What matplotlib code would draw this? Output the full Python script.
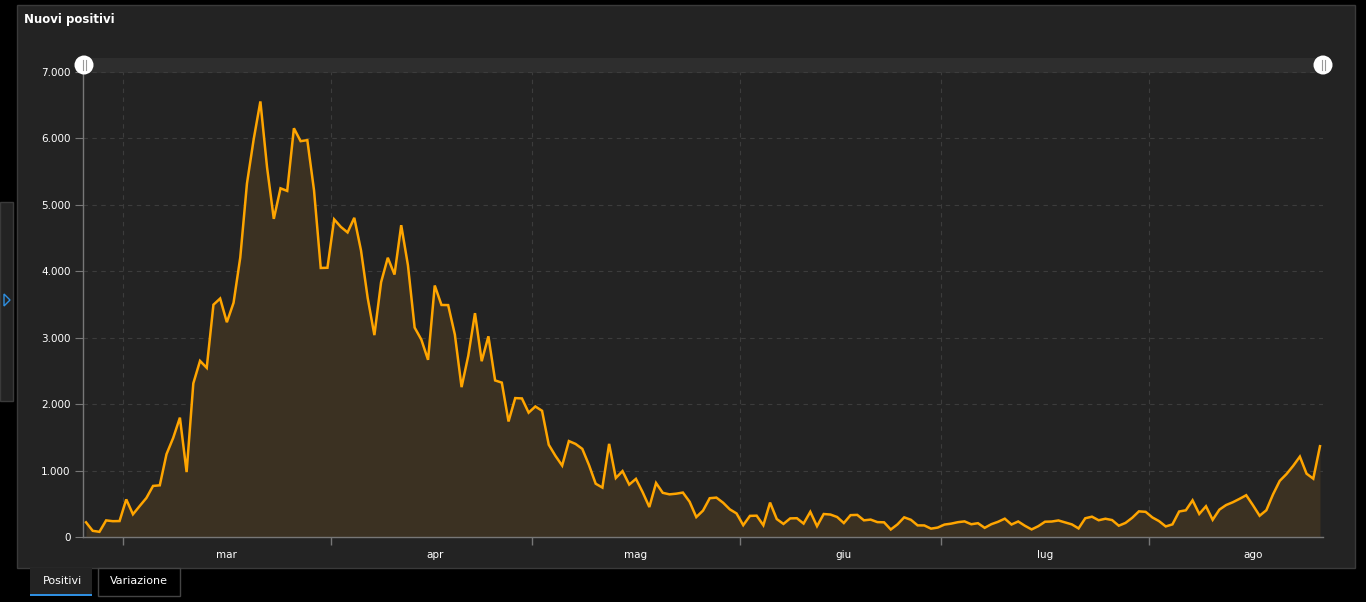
import numpy as np
import matplotlib
matplotlib.use("Agg")
import matplotlib.pyplot as plt
import matplotlib.dates as mdates
from matplotlib.patches import Rectangle, Ellipse, Polygon
import datetime as dt

# nuovi positivi giornalieri, dal 24 feb al 26 ago
start = dt.datetime(2020, 2, 24, 12)
nuovi_positivi = [
    221, 93, 78, 250, 238, 240,
    566, 342, 466, 587, 769, 778, 1247, 1492, 1797, 977, 2313, 2651, 2547, 3497,
    3590, 3233, 3526, 4207, 5322, 5986, 6557, 5560, 4789, 5249, 5210, 6153, 5959,
    5974, 5217, 4050, 4053,
    4782, 4668, 4585, 4805, 4316, 3599, 3039, 3836, 4204, 3951, 4694, 4092, 3153,
    2972, 2667, 3786, 3493, 3491, 3047, 2256, 2729, 3370, 2646, 3021, 2357, 2324,
    1739, 2091, 2086, 1872,
    1965, 1900, 1389, 1221, 1075, 1444, 1401, 1327, 1083, 802, 744, 1402, 888, 992,
    789, 875, 675, 451, 813, 665, 642, 652, 669, 531, 300, 397, 584, 593, 516, 416,
    355,
    178, 318, 321, 177, 518, 270, 197, 280, 283, 202, 379, 163, 346, 338, 301, 210,
    329, 333, 251, 262, 224, 221, 113, 190, 296, 259, 175, 174, 126, 142,
    187, 201, 223, 235, 192, 208, 138, 193, 229, 276, 188, 234, 169, 114, 163, 230,
    233, 249, 219, 190, 129, 282, 306, 252, 275, 255, 170, 212, 289, 386, 379,
    295, 239, 159, 190, 384, 402, 552, 347, 463, 259, 412, 481, 523, 574, 629, 479,
    320, 403, 642, 845, 947, 1071, 1210, 953, 878, 1367,
]
mesi = ["mar", "apr", "mag", "giu", "lug", "ago"]
y_ticks = [0, 1000, 2000, 3000, 4000, 5000, 6000, 7000]
y_labels = ["0", "1.000", "2.000", "3.000", "4.000", "5.000", "6.000", "7.000"]

dates = [start + dt.timedelta(days=i) for i in range(len(nuovi_positivi))]
x = mdates.date2num(dates)
y = np.array(nuovi_positivi)

W, H = 1366, 602
fig = plt.figure(figsize=(W / 100, H / 100), dpi=100, facecolor="black")


def box(x0, y0, x1, y1, z=-2, **kw):
    # rettangolo in pixel (origine in alto a sinistra)
    fig.patches.append(Rectangle((x0 / W, 1 - y1 / H), (x1 - x0) / W, (y1 - y0) / H,
                                 transform=fig.transFigure, zorder=z, **kw))


# pannello principale e barra laterale
box(17, 5, 1355, 568, facecolor="#232323", edgecolor="#3a3a3a", lw=1)
box(0, 202, 13, 401, facecolor="#232323", edgecolor="#3a3a3a", lw=1)
fig.patches.append(Polygon([(4 / W, 1 - 294 / H), (4 / W, 1 - 306 / H), (10 / W, 1 - 300 / H)],
                           closed=True, transform=fig.transFigure, zorder=-1,
                           facecolor="none", edgecolor="#2f8fe0", lw=1))

fig.text(24 / W, 1 - 20 / H, "Nuovi positivi", color="white", fontsize=8.5,
         fontweight="bold", va="center", ha="left")

# tab in basso
box(30, 568, 92, 595, facecolor="#232323", edgecolor="none")
box(30, 594, 92, 596, z=-1, facecolor="#2f8fe0", edgecolor="none")
box(98, 568, 180, 596, facecolor="black", edgecolor="#444444", lw=1)
fig.text(62 / W, 1 - 581 / H, "Positivi", color="white", fontsize=8, ha="center", va="center")
fig.text(139 / W, 1 - 581 / H, "Variazione", color="white", fontsize=8, ha="center", va="center")

# slider
box(84, 58, 1322, 73, z=-1, facecolor="#2e2e2e", edgecolor="none")

ax = fig.add_axes([83 / W, 1 - 537 / H, (1323 - 83) / W, (537 - 72) / H])
ax.set_facecolor("none")

ax.fill_between(x, y, 0, color="#3b3122", lw=0)
ax.plot(x, y, color="#ffa500", lw=1.8, solid_joinstyle="miter")

ax.set_xlim(x[0] - 0.45, x[-1] + 0.45)
ax.set_ylim(0, 7000)

month_starts = mdates.date2num([dt.datetime(2020, m, 1) for m in range(3, 9)])
mid_month = mdates.date2num([dt.datetime(2020, m, 16, 12) for m in range(3, 9)])
ax.set_xticks(month_starts)
ax.set_xticklabels([])
ax.set_xticks(mid_month, minor=True)
ax.set_xticklabels(mesi, minor=True)
ax.tick_params(axis="x", which="major", length=6, color="#777777", width=1)
ax.tick_params(axis="x", which="minor", length=0, pad=9, labelcolor="white", labelsize=7.5)

ax.set_yticks(y_ticks)
ax.set_yticklabels(y_labels)
ax.tick_params(axis="y", length=6, color="#777777", labelcolor="white", labelsize=7.5, pad=3)

ax.grid(True, which="major", color="#3c3c3c", ls=(0, (4, 4)), lw=0.8)
ax.set_axisbelow(True)

for s in ("top", "right"):
    ax.spines[s].set_visible(False)
for s in ("left", "bottom"):
    ax.spines[s].set_color("#777777")
    ax.spines[s].set_linewidth(1)

# maniglie dello slider, sopra gli assi
for hx in (84, 1323):
    fig.patches.append(Ellipse((hx / W, 1 - 65 / H), 19 / W, 19 / H, transform=fig.transFigure,
                               facecolor="white", edgecolor="none", zorder=5))
    for dx in (-1.5, 1.5):
        fig.lines.append(plt.Line2D([(hx + dx) / W] * 2, [1 - 60 / H, 1 - 70 / H],
                                    transform=fig.transFigure, color="#999999", lw=0.8, zorder=6))

fig.savefig("out.png", dpi=100, facecolor="black")
